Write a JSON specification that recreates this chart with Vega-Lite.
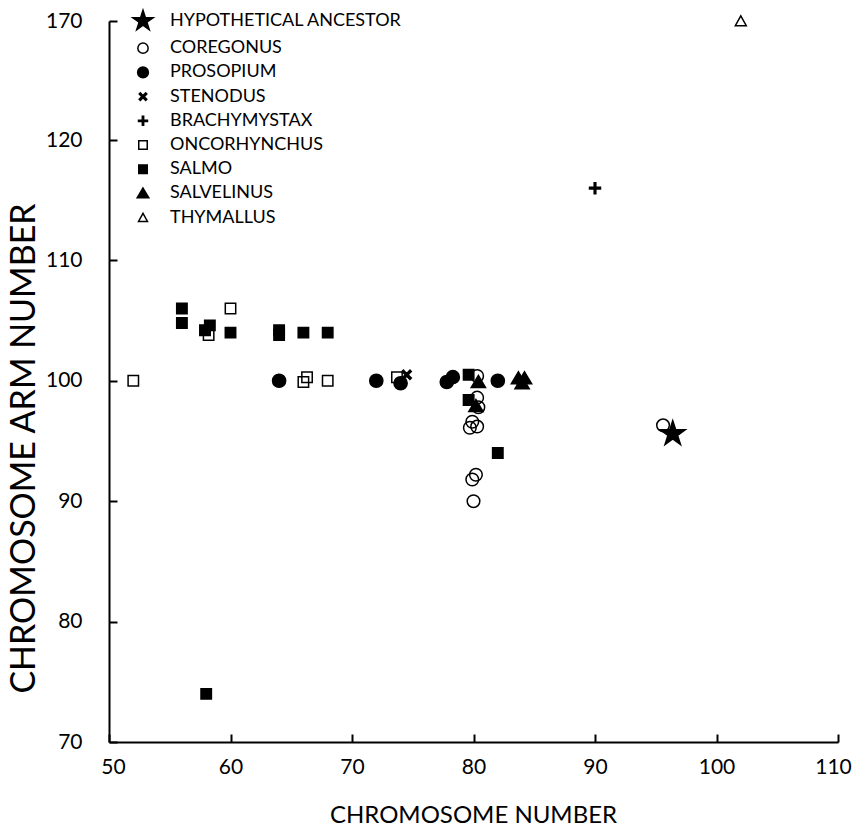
{
  "$schema": "https://vega.github.io/schema/vega-lite/v6.json",
  "width": 729,
  "height": 721,
  "autosize": {"type": "none"},
  "padding": {"left": 109, "top": 21, "right": 17, "bottom": 88},
  "background": "white",
  "config": {"view": {"stroke": null}, "font": "Lato"},
  "data": {
    "values": [
      {"genus": "ONCORHYNCHUS", "chromosomes": 52, "arms": 100},
      {"genus": "ONCORHYNCHUS", "chromosomes": 60, "arms": 106},
      {"genus": "ONCORHYNCHUS", "chromosomes": 58.2, "arms": 103.8},
      {"genus": "ONCORHYNCHUS", "chromosomes": 66, "arms": 99.9},
      {"genus": "ONCORHYNCHUS", "chromosomes": 66.3, "arms": 100.3},
      {"genus": "ONCORHYNCHUS", "chromosomes": 68, "arms": 100},
      {"genus": "ONCORHYNCHUS", "chromosomes": 73.7, "arms": 100.3},
      {"genus": "SALMO", "chromosomes": 56, "arms": 106},
      {"genus": "SALMO", "chromosomes": 56, "arms": 104.8},
      {"genus": "SALMO", "chromosomes": 57.9, "arms": 104.2},
      {"genus": "SALMO", "chromosomes": 58.3, "arms": 104.6},
      {"genus": "SALMO", "chromosomes": 60, "arms": 104},
      {"genus": "SALMO", "chromosomes": 64, "arms": 104.2},
      {"genus": "SALMO", "chromosomes": 64, "arms": 103.8},
      {"genus": "SALMO", "chromosomes": 66, "arms": 104},
      {"genus": "SALMO", "chromosomes": 68, "arms": 104},
      {"genus": "SALMO", "chromosomes": 58, "arms": 74},
      {"genus": "SALMO", "chromosomes": 82, "arms": 94},
      {"genus": "SALMO", "chromosomes": 79.6, "arms": 100.5},
      {"genus": "SALMO", "chromosomes": 79.6, "arms": 98.4},
      {"genus": "PROSOPIUM", "chromosomes": 64, "arms": 100},
      {"genus": "PROSOPIUM", "chromosomes": 72, "arms": 100},
      {"genus": "PROSOPIUM", "chromosomes": 74, "arms": 99.8},
      {"genus": "PROSOPIUM", "chromosomes": 77.8, "arms": 99.9},
      {"genus": "PROSOPIUM", "chromosomes": 78.3, "arms": 100.3},
      {"genus": "PROSOPIUM", "chromosomes": 82, "arms": 100},
      {"genus": "STENODUS", "chromosomes": 74.5, "arms": 100.5},
      {"genus": "BRACHYMYSTAX", "chromosomes": 90, "arms": 116},
      {"genus": "SALVELINUS", "chromosomes": 80.4, "arms": 99.9},
      {"genus": "SALVELINUS", "chromosomes": 80.2, "arms": 97.9},
      {"genus": "SALVELINUS", "chromosomes": 83.7, "arms": 100.2},
      {"genus": "SALVELINUS", "chromosomes": 84.2, "arms": 100.2},
      {"genus": "SALVELINUS", "chromosomes": 84, "arms": 99.8},
      {"genus": "COREGONUS", "chromosomes": 95.6, "arms": 96.3},
      {"genus": "COREGONUS", "chromosomes": 80.3, "arms": 100.4},
      {"genus": "COREGONUS", "chromosomes": 80.3, "arms": 98.6},
      {"genus": "COREGONUS", "chromosomes": 80.4, "arms": 97.8},
      {"genus": "COREGONUS", "chromosomes": 79.9, "arms": 96.6},
      {"genus": "COREGONUS", "chromosomes": 79.7, "arms": 96.1},
      {"genus": "COREGONUS", "chromosomes": 80.3, "arms": 96.2},
      {"genus": "COREGONUS", "chromosomes": 80.2, "arms": 92.2},
      {"genus": "COREGONUS", "chromosomes": 79.9, "arms": 91.8},
      {"genus": "COREGONUS", "chromosomes": 80.0, "arms": 90.0},
      {"genus": "THYMALLUS", "chromosomes": 102, "arms": 170},
      {"genus": "HYPOTHETICAL ANCESTOR", "chromosomes": 96.4, "arms": 95.6}
    ]
  },
  "mark": {"type": "point", "filled": true, "strokeWidth": 1.5, "opacity": 1, "size": 120},
  "encoding": {
    "x": {
      "field": "chromosomes", "type": "quantitative",
      "scale": {"domain": [50, 110], "nice": false, "zero": false},
      "axis": {
        "values": [50, 60, 70, 80, 90, 100, 110],
        "grid": false, "tickSize": -8, "tickWidth": 2, "tickColor": "black",
        "domainColor": "black", "domainWidth": 2,
        "labelFontSize": 21, "labelColor": "black", "labelPadding": 22, "labelFlush": false,
        "labelOffset": {"expr": "datum.value == 50 ? 4 : datum.value == 110 ? -5 : 0"},
        "title": "CHROMOSOME NUMBER", "titleFontSize": 24, "titleFontWeight": "normal", "titleColor": "black",
        "titleX": 364, "titleY": 73, "titleBaseline": "middle", "titleAlign": "center"
      }
    },
    "y": {
      "field": "arms", "type": "quantitative",
      "scale": {"domain": [70, 120, 170], "range": [721, 119, 0], "nice": false, "zero": false},
      "axis": {
        "values": [70, 80, 90, 100, 110, 120, 170],
        "grid": false, "tickSize": -8, "tickWidth": 2, "tickColor": "black",
        "domainColor": "black", "domainWidth": 2,
        "labelFontSize": 21, "labelColor": "black", "labelPadding": 35, "labelFlush": false,
        "title": "CHROMOSOME ARM NUMBER", "titleFontSize": 34, "titleFontWeight": "normal", "titleColor": "black",
        "titleX": -85, "titleY": 427, "titleBaseline": "middle", "titleAlign": "center", "titleAngle": -90
      }
    },
    "shape": {
      "field": "genus", "type": "nominal",
      "scale": {
        "domain": ["HYPOTHETICAL ANCESTOR", "COREGONUS", "PROSOPIUM", "STENODUS", "BRACHYMYSTAX", "ONCORHYNCHUS", "SALMO", "SALVELINUS", "THYMALLUS"],
        "range": [
          "M0,-2.4L0.539,-0.742L2.283,-0.742L0.872,0.283L1.411,1.942L0,0.917L-1.411,1.942L-0.872,0.283L-2.283,-0.742L-0.539,-0.742Z",
          "M1.15,0A1.15,1.15,0,1,1,-1.15,0A1.15,1.15,0,1,1,1.15,0Z",
          "M1.2,0A1.2,1.2,0,1,1,-1.2,0A1.2,1.2,0,1,1,1.2,0Z",
          "M-0.85,-0.6L-0.6,-0.85L0,-0.25L0.6,-0.85L0.85,-0.6L0.25,0L0.85,0.6L0.6,0.85L0,0.25L-0.6,0.85L-0.85,0.6L-0.25,0Z",
          "M-1,-0.15H-0.15V-1H0.15V-0.15H1V0.15H0.15V1H-0.15V0.15H-1Z",
          "M-0.95,-0.95H0.95V0.95H-0.95Z",
          "M-0.95,-0.95H0.95V0.95H-0.95Z",
          "M0,-1.2L1.3,1L-1.3,1Z",
          "M0,-0.95L1,0.85L-1,0.85Z"
        ]
      },
      "legend": {
        "title": null, "orient": "none", "legendX": 25, "legendY": -9, "padding": 0,
        "labelFontSize": 18, "labelColor": "black", "labelOffset": 18, "rowPadding": 6.2, "labelLimit": 0,
        "symbolSize": 80, "symbolStrokeWidth": 1.5
      }
    },
    "fill": {
      "field": "genus", "type": "nominal",
      "scale": {
        "domain": ["HYPOTHETICAL ANCESTOR", "COREGONUS", "PROSOPIUM", "STENODUS", "BRACHYMYSTAX", "ONCORHYNCHUS", "SALMO", "SALVELINUS", "THYMALLUS"],
        "range": ["black", "transparent", "black", "black", "black", "transparent", "black", "black", "transparent"]
      }
    },
    "stroke": {
      "field": "genus", "type": "nominal",
      "scale": {
        "domain": ["HYPOTHETICAL ANCESTOR", "COREGONUS", "PROSOPIUM", "STENODUS", "BRACHYMYSTAX", "ONCORHYNCHUS", "SALMO", "SALVELINUS", "THYMALLUS"],
        "range": ["black", "black", "black", "black", "black", "black", "black", "black", "black"]
      }
    }
  }
}
